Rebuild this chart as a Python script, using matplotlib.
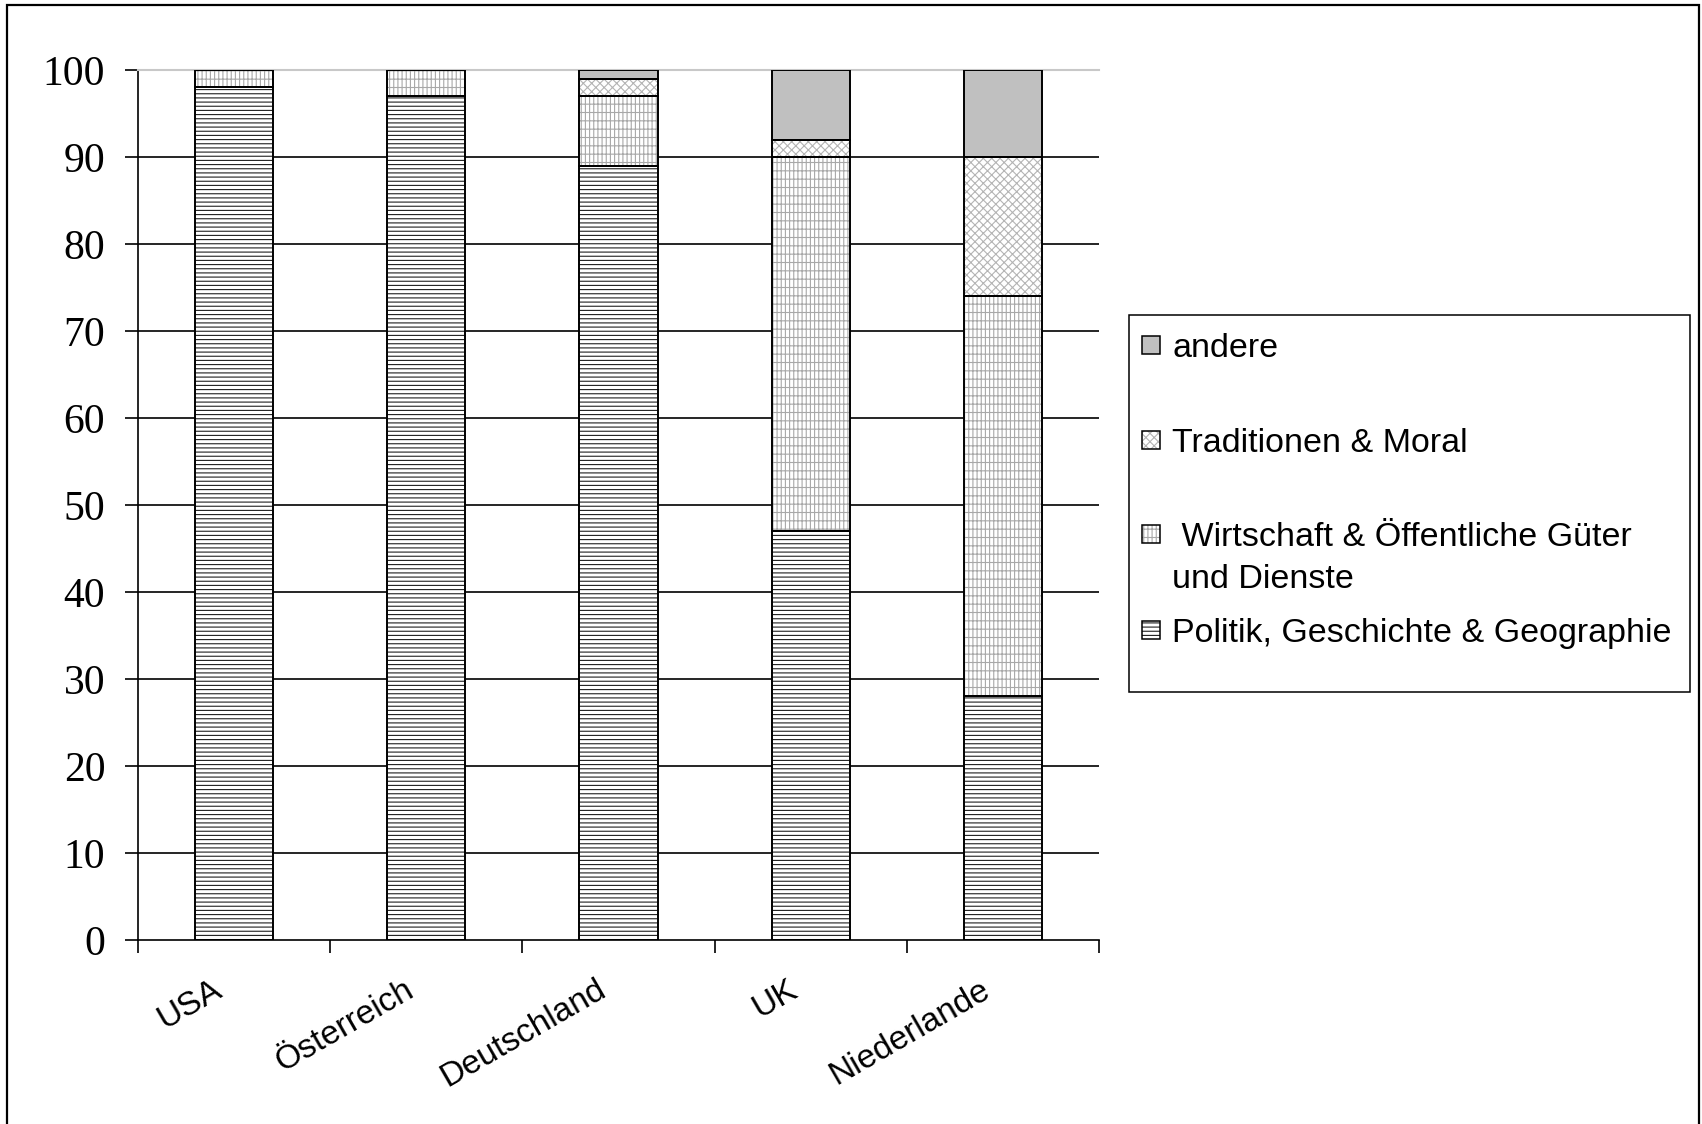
import numpy as np
import matplotlib.pyplot as plt
from matplotlib.patches import Rectangle
from matplotlib.transforms import ScaledTranslation

plt.rcParams['font.family'] = ['Liberation Sans', 'DejaVu Sans']
plt.rcParams['hatch.linewidth'] = 0.8

# Daten (Anteile in %)
laender = ['USA', 'Österreich', 'Deutschland', 'UK', 'Niederlande']
politik = [98, 97, 89, 47, 28]
wirtschaft = [2, 3, 8, 43, 46]
traditionen = [0, 0, 2, 2, 16]
andere = [0, 0, 1, 8, 10]
y_ticks = list(range(0, 101, 10))

serien = [politik, wirtschaft, traditionen, andere]
namen = ['Politik, Geschichte & Geographie',
         ' Wirtschaft & Öffentliche Güter\nund Dienste',
         'Traditionen & Moral',
         'andere']
# (Füllfarbe, Schraffur, Schraffurfarbe)
stile = [('white', '----', '#202020'),
         ('white', '||||--', '#a8a8a8'),
         ('white', 'xxxx', '#b4b4b4'),
         ('#c0c0c0', None, '#c0c0c0')]

W, H = 1702, 1124
fig = plt.figure(figsize=(W / 100, H / 100), dpi=100)


def fx(px):
    return px / W


def fy(py):
    return 1 - py / H


ax = fig.add_axes([fx(138), fy(940), (1099 - 138) / W, (940 - 70) / H])

x = np.arange(len(laender))
breite = 0.406
unten = np.zeros(len(laender))
for werte, (farbe, hatch, hfarbe) in zip(serien, stile):
    ax.bar(x, werte, bottom=unten, width=breite, color=farbe, hatch=hatch,
           edgecolor=hfarbe, lw=0, zorder=3)
    ax.bar(x, werte, bottom=unten, width=breite, fill=False,
           edgecolor='black', lw=1.4, zorder=4)
    unten += np.array(werte)

# Gitterlinien
for yv in y_ticks[1:-1]:
    ax.axhline(yv, color='black', lw=1.2, zorder=1)

ax.set_xlim(-0.5, len(laender) - 0.5)
ax.set_ylim(0, 100)
ax.set_yticks(y_ticks)
ax.tick_params(axis='y', length=9.5, width=1.2, pad=14, labelsize=30)
for lbl in ax.get_yticklabels():
    lbl.set_fontfamily('Liberation Serif')

ax.set_xticks(np.arange(len(laender) + 1) - 0.5)
ax.set_xticklabels([])
ax.tick_params(axis='x', which='major', length=9, width=1.2)
ax.set_xticks(x, minor=True)
ax.set_xticklabels(laender, minor=True, rotation=30, ha='right', va='center',
                   rotation_mode='anchor', fontsize=24)
ax.tick_params(axis='x', which='minor', length=0, pad=37)
versatz = ScaledTranslation(-0.15, 0.04, fig.dpi_scale_trans)
for lbl in ax.get_xticklabels(minor=True):
    lbl.set_transform(lbl.get_transform() + versatz)

ax.spines['right'].set_visible(False)
ax.spines['top'].set_color('#c8c8c8')
ax.spines['top'].set_linewidth(1.5)
ax.spines['left'].set_linewidth(1.2)
ax.spines['bottom'].set_linewidth(1.2)

# Legende
fig.add_artist(Rectangle((fx(1129), fy(692)), (1690 - 1129) / W, (692 - 315) / H,
                         transform=fig.transFigure, fill=False,
                         edgecolor='black', lw=1.1))
basis = {'andere': 357, 'Traditionen & Moral': 452,
         ' Wirtschaft & Öffentliche Güter\nund Dienste': 546,
         'Politik, Geschichte & Geographie': 642}
for name, (farbe, hatch, hfarbe) in zip(namen, stile):
    yb = basis[name]
    mitte = yb - 12
    for fl, hh, ec in [(True, hatch, hfarbe), (False, None, 'black')]:
        fig.add_artist(Rectangle((fx(1142), fy(mitte + 9)), 18 / W, 18 / H,
                                 transform=fig.transFigure, facecolor=farbe,
                                 fill=fl, hatch=hh, edgecolor=ec,
                                 lw=0 if fl else 1.1))
    for i, zeile in enumerate(name.split('\n')):
        fig.text(fx(1172), fy(yb + i * 42), zeile, fontsize=24.5,
                 va='baseline', ha='left')

# Rahmen um die Grafik
fig.add_artist(Rectangle((fx(7), fy(1130)), (1699 - 7) / W, (1130 - 5) / H,
                         transform=fig.transFigure, fill=False,
                         edgecolor='black', lw=1.6))

plt.savefig('out.png', dpi=100)
